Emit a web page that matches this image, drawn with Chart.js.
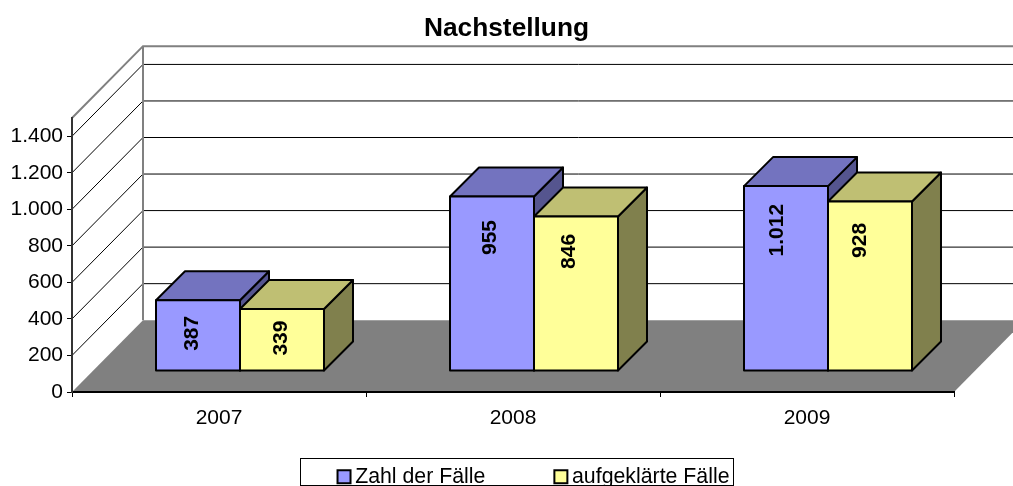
<!DOCTYPE html>
<html><head><meta charset="utf-8">
<script src="https://cdn.jsdelivr.net/npm/chart.js@4"></script>
<style>html,body{margin:0;padding:0;background:#fff;overflow:hidden}canvas{display:block}</style>
</head><body>
<canvas id="c" width="1013" height="486"></canvas>
<script>
const years = ['2007','2008','2009'];
const faelle = [387,955,1012];
const aufgeklaert = [339,846,928];
const seriesNames = ['Zahl der Fälle','aufgeklärte Fälle'];
const frontColors = ['#9999FF','#FFFF99'];
const topColors = ['#7373BF','#BFBF73'];
const sideColors = ['#55558F','#80804D'];
// label nudges relative to bar centre / top of bar
const labelShiftX = [[-6,-2,-9],[-1,-7,-10]];
const labelDrop = [[33,41,44],[29,35,39]];

const WALL_DX = 71, WALL_DY = 71.8, BAR_DX = 21, BAR_DY = 21, BAR_DEPTH = 29;
const FONT = '"Liberation Sans", Arial, sans-serif';
const fmt = v => String(v).replace(/\B(?=(\d{3})+$)/g,'.');

function poly(ctx, pts, fill, stroke, lw){
  ctx.beginPath();
  pts.forEach((p,i)=> i ? ctx.lineTo(p[0],p[1]) : ctx.moveTo(p[0],p[1]));
  ctx.closePath();
  if(fill){ctx.fillStyle=fill;ctx.fill();}
  if(stroke){ctx.strokeStyle=stroke;ctx.lineWidth=lw;ctx.stroke();}
}

const threeD = {
  id:'threeD',
  afterLayout(chart){
    const t = chart.titleBlock, l = chart.legend;
    t.left = 0; t.right = chart.width;
    l.left = 0; l.right = chart.width + 60;
    l.top = 466 - l.options.labels.padding;
    l.bottom = chart.height;
  },
  beforeDraw(chart){
    const ctx = chart.ctx, y = chart.scales.y, a = chart.chartArea;
    const L = a.left, R = a.right, B = y.getPixelForValue(0), T = y.getPixelForValue(1500);
    ctx.save();
    poly(ctx,[[L,B],[L+WALL_DX,B-WALL_DY],[R+WALL_DX,B-WALL_DY],[R,B]],'#808080');
    ctx.lineWidth = 1; ctx.strokeStyle = '#000';
    y.ticks.forEach(t=>{
      if(t.value===0) return;
      const p = y.getPixelForValue(t.value);
      ctx.beginPath();
      ctx.moveTo(L,p);
      ctx.lineTo(L+WALL_DX,p-WALL_DY);
      ctx.lineTo(R+WALL_DX,p-WALL_DY);
      ctx.stroke();
    });
    ctx.strokeStyle = '#808080'; ctx.lineWidth = 2;
    ctx.beginPath();
    ctx.moveTo(L,T);
    ctx.lineTo(L+WALL_DX,T-WALL_DY);
    ctx.lineTo(R+WALL_DX,T-WALL_DY);
    ctx.moveTo(L+WALL_DX,T-WALL_DY);
    ctx.lineTo(L+WALL_DX,B-WALL_DY);
    ctx.stroke();
    ctx.restore();
  },
  beforeDatasetsDraw(chart){
    const ctx = chart.ctx;
    ctx.save(); ctx.lineJoin='round';
    chart.data.labels.forEach((_,i)=>{
      [0,1].forEach(d=>{
        const b = chart.getDatasetMeta(d).data[i];
        const l = b.x-b.width/2+BAR_DX, r = b.x+b.width/2+BAR_DX, t = b.y-BAR_DY, f = b.base-BAR_DY;
        poly(ctx,[[r,t],[r+BAR_DEPTH,t-BAR_DEPTH],[r+BAR_DEPTH,f-BAR_DEPTH],[r,f]],sideColors[d],'#000',2);
        poly(ctx,[[l,t],[l+BAR_DEPTH,t-BAR_DEPTH],[r+BAR_DEPTH,t-BAR_DEPTH],[r,t]],topColors[d],'#000',2);
      });
    });
    ctx.restore();
  },
  beforeDatasetDraw(chart){ chart.ctx.save(); chart.ctx.translate(BAR_DX,-BAR_DY); },
  afterDatasetDraw(chart){ chart.ctx.restore(); },
  afterDatasetsDraw(chart){
    const ctx = chart.ctx;
    ctx.save();
    ctx.fillStyle='#000';
    ctx.font='bold 21px '+FONT;
    ctx.textAlign='center'; ctx.textBaseline='middle';
    chart.data.datasets.forEach((ds,d)=>{
      chart.getDatasetMeta(d).data.forEach((b,i)=>{
        const l = b.x-b.width/2+BAR_DX, t = b.y-BAR_DY;
        ctx.strokeStyle='#000'; ctx.lineWidth=2; ctx.lineJoin='round';
        ctx.strokeRect(l,t,b.width,b.base-b.y);
        ctx.save();
        ctx.translate(b.x+BAR_DX+labelShiftX[d][i], t+labelDrop[d][i]);
        ctx.rotate(-Math.PI/2);
        ctx.fillText(fmt(ds.data[i]),0,0);
        ctx.restore();
      });
    });
    ctx.restore();
  },
  afterDraw(chart){
    const ctx = chart.ctx;
    ctx.save();
    ctx.strokeStyle='#000'; ctx.lineWidth=1;
    ctx.strokeRect(300.5,458.5,433,27);
    ctx.restore();
  }
};

new Chart(document.getElementById('c'),{
  type:'bar',
  data:{labels:years,datasets:[
    {label:seriesNames[0],data:faelle,backgroundColor:frontColors[0],borderWidth:0,clip:false},
    {label:seriesNames[1],data:aufgeklaert,backgroundColor:frontColors[1],borderWidth:0,clip:false}
  ]},
  options:{
    responsive:false,animation:false,
    layout:{padding:{left:0,right:59,top:0,bottom:0}},
    datasets:{bar:{barPercentage:1,categoryPercentage:0.5714}},
    plugins:{
      tooltip:{enabled:false},
      title:{display:true,text:'Nachstellung',color:'#000',font:{family:FONT,size:26.3,weight:'bold',lineHeight:1.2},padding:{top:13,bottom:73.4}},
      legend:{position:'bottom',maxHeight:40,labels:{
        color:'#000',font:{family:FONT,size:21.3},usePointStyle:true,boxWidth:1,boxHeight:13,padding:75,
        generateLabels(chart){
          return chart.data.datasets.map((ds,i)=>({text:ds.label,fillStyle:frontColors[i],strokeStyle:'#000',lineWidth:2,pointStyle:'rect',datasetIndex:i,fontColor:'#000'}));
        }
      }}
    },
    scales:{
      x:{
        afterFit(s){s.height=54;},
        grid:{drawOnChartArea:false,drawTicks:true,tickLength:5,color:'#000'},
        border:{color:'#000',width:2},
        ticks:{color:'#000',font:{family:FONT,size:21},padding:9,maxRotation:0}
      },
      y:{
        min:0,max:1500,
        afterFit(s){s.width=72;},
        grid:{drawOnChartArea:false,drawTicks:true,tickLength:5,color:'#000'},
        border:{color:'#333',width:2},
        ticks:{stepSize:200,includeBounds:false,color:'#000',font:{family:FONT,size:21},padding:4,callback:fmt}
      }
    }
  },
  plugins:[threeD]
});
</script>
</body></html>
